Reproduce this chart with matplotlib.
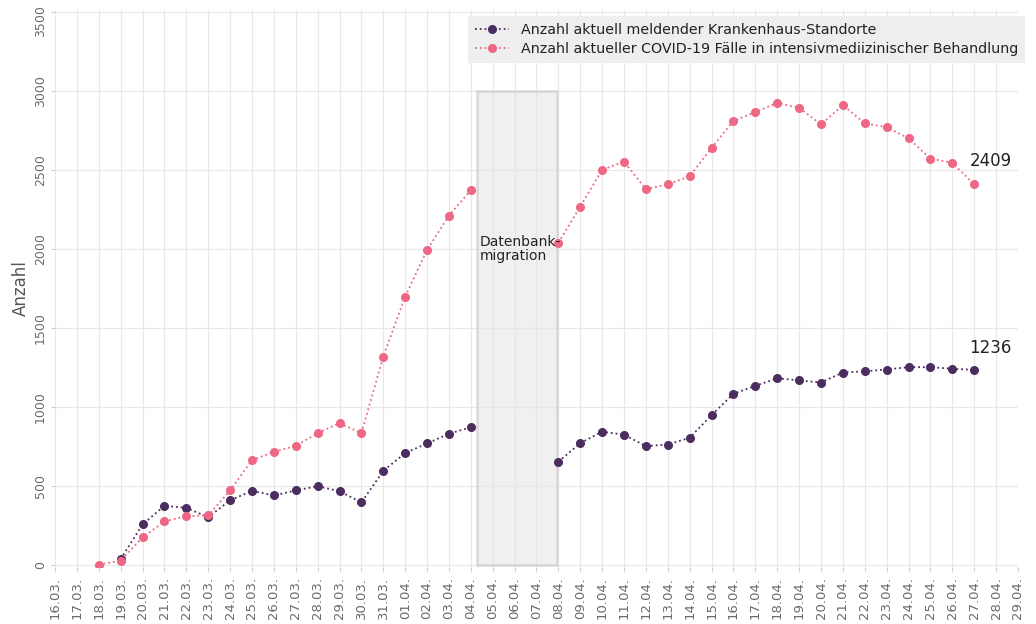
import numpy as np
import pandas as pd
import matplotlib
matplotlib.use("Agg")
import matplotlib.pyplot as plt
import matplotlib.dates as mdates
import matplotlib.transforms as mtransforms
from matplotlib.patches import Rectangle

# Data
dates_before = pd.date_range("2020-03-18", "2020-04-04", freq="D")
dates_after = pd.date_range("2020-04-08", "2020-04-27", freq="D")

standorte_before = [np.nan, 40, 259, 377, 364, 305, 411, 472, 442, 474, 501, 469, 398,
                    598, 710, 771, 832, 874]
standorte_after = [655, 773, 845, 826, 754, 764, 807, 950, 1085, 1135, 1183, 1169, 1156,
                   1219, 1227, 1238, 1253, 1253, 1243, 1236]

faelle_before = [5, 30, 177, 278, 312, 316, 474, 665, 718, 756, 836, 899, 836,
                 1320, 1699, 1994, 2211, 2371]
faelle_after = [2039, 2268, 2500, 2552, 2377, 2409, 2459, 2639, 2809, 2864, 2923, 2891,
                2788, 2908, 2794, 2769, 2699, 2571, 2544, 2409]

label_standorte = "Anzahl aktuell meldender Krankenhaus-Standorte"
label_faelle = "Anzahl aktueller COVID-19 Fälle in intensivmediizinischer Behandlung"

purple = "#4b2d5f"
pink = "#ee6784"
grey_text = "#6b6b6b"

dates = dates_before.append(dates_after)
standorte = standorte_before + standorte_after
faelle = faelle_before + faelle_after

full_range = pd.date_range("2020-03-18", "2020-04-27")
s1 = pd.Series(standorte, index=dates).reindex(full_range)
s2 = pd.Series(faelle, index=dates).reindex(full_range)

fig = plt.figure(figsize=(10.36, 6.24), dpi=100)
# 0 gridline at y=565 px, 3500 gridline at y=12 px
ax = fig.add_axes([0.0531, 0.0913, 0.9295, 0.8927])

# migration box
x0 = mdates.date2num(pd.Timestamp("2020-04-04 07:00"))
x1 = mdates.date2num(pd.Timestamp("2020-04-07 22:30"))
ax.add_patch(Rectangle((x0, 0), x1 - x0, 3000, facecolor="#e6e6e6", alpha=0.6,
                       edgecolor="#cbc3cf", linewidth=1.8, zorder=1))
ax.text(mdates.date2num(pd.Timestamp("2020-04-04 10:00")), 2000, "Datenbank-\nmigration",
        fontsize=10, color="#222222", va="center", ha="left", linespacing=1.0, zorder=4)

ax.plot(s1.index, s1.values, linestyle=":", color=purple, marker="o", markersize=5.5,
        linewidth=1.3, label=label_standorte, zorder=3)
ax.plot(s2.index, s2.values, linestyle=":", color=pink, marker="o", markersize=5.5,
        linewidth=1.3, label=label_faelle, zorder=3)

# end labels
last = pd.Timestamp("2020-04-27 18:00")
ax.text(last, standorte[-1] + 135, str(standorte[-1]), fontsize=12, color="#222222",
        ha="center", va="center")
ax.text(last, faelle[-1] + 145, str(faelle[-1]), fontsize=12, color="#222222",
        ha="center", va="center")

ax.set_xlim(pd.Timestamp("2020-03-16"), pd.Timestamp("2020-04-29"))
ax.set_ylim(-10, 3510)
ax.xaxis.set_major_locator(mdates.DayLocator())
ax.xaxis.set_major_formatter(mdates.DateFormatter("%d.%m."))
ax.set_yticks(np.arange(0, 3501, 500))
ax.tick_params(axis="x", rotation=90, labelsize=9.5, colors=grey_text, length=3,
               color="#cccccc", pad=4)
ax.tick_params(axis="y", labelsize=9, colors=grey_text, length=3, color="#cccccc", pad=3)
ylabels = ax.get_yticklabels()
for lab in ylabels:
    lab.set_rotation(90)
    lab.set_va("center")
# top label sits a little lower so it stays inside the picture
ylabels[-1].set_transform(ylabels[-1].get_transform()
                          + mtransforms.ScaledTranslation(0, -7 / 72, fig.dpi_scale_trans))

ax.grid(True, color="#e8e8e8", linewidth=0.9)
ax.set_axisbelow(True)
for sp in ax.spines.values():
    sp.set_visible(False)
ax.set_ylabel("Anzahl", fontsize=12, color="#555555", labelpad=3)

leg = ax.legend(loc="upper right", fontsize=10.3, frameon=True, facecolor="#eeeeee",
                edgecolor="none", framealpha=1, fancybox=False, handlelength=2.4,
                handletextpad=0.8, borderpad=0.5, borderaxespad=0, labelspacing=0.35,
                bbox_to_anchor=(1025 / 1036, 1 - 16 / 624), bbox_transform=fig.transFigure)
for t in leg.get_texts():
    t.set_color("#222222")

fig.savefig("out.png", dpi=100)
